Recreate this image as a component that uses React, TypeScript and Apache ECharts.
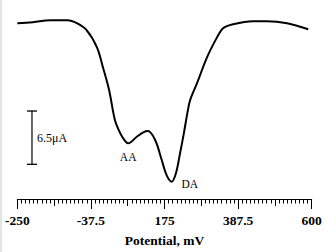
import React, { useEffect, useRef } from "react";
import * as echarts from "echarts";

// Differential pulse voltammogram: potential (mV) vs current (µA)
const potential = [-250, -205, -155, -105, -78, -50, -20, -3, 15, 32, 47, 61, 70, 95, 114, 127, 148, 167, 181, 196, 208, 220, 231, 241, 249, 269, 298, 327, 344, 373, 430, 471, 529, 590];
const current = [21.44, 21.56, 21.8, 21.8, 21.44, 20.6, 18.5, 16.1, 13.3, 9.6, 8.04, 7.1, 6.79, 7.59, 8.13, 8.28, 7.19, 4.75, 2.92, 2.11, 3.13, 5.6, 8.04, 10.48, 12.06, 14.13, 17.3, 19.74, 20.83, 21.32, 21.69, 21.69, 21.44, 20.71];

// Peak annotations
const peakNames = ["AA", "DA"];
const peakPotential = [70, 196];
const peakCurrent = [6.79, 2.11];

// Axis tick labels (mV)
const tickLabels = ["-250", "-37.5", "175", "387.5", "600"];
const axisMin = -250;
const axisMax = 600;

// Current scale bar
const scaleBarPotential = -207.6;
const scaleBarBase = 4.23;
const scaleBarSize = 6.5;
const scaleBarLabel = "6.5\u03bcA";

const serif = "'Liberation Serif', 'Times New Roman', serif";

export default function App() {
  const ref = useRef<HTMLDivElement>(null);

  useEffect(() => {
    if (!ref.current) return;
    const chart = echarts.init(ref.current, null, { renderer: "svg" });
    const span = axisMax - axisMin;
    const major = span / (tickLabels.length - 1);
    // shift so ticks start at 0 on the axis scale
    const shift = (v: number) => v - axisMin;

    chart.setOption({
      animation: false,
      backgroundColor: "#ffffff",
      grid: { left: 17.3, right: 14.3, top: 2.2, bottom: 53 },
      xAxis: [
        {
          type: "value",
          min: 0,
          max: span,
          interval: major,
          position: "bottom",
          axisLine: { show: true, lineStyle: { color: "#000", width: 1 } },
          axisTick: { show: true, length: 10, lineStyle: { color: "#000", width: 1 } },
          splitLine: { show: false },
          axisLabel: {
            margin: 14.5,
            color: "#000",
            fontFamily: serif,
            fontWeight: "bold",
            fontSize: 13.5,
            formatter: (v: number) => tickLabels[Math.round(v / major)] ?? "",
          },
          name: "Potential, mV",
          nameLocation: "middle",
          nameGap: 34,
          nameTextStyle: { color: "#000", fontFamily: serif, fontWeight: "bold", fontSize: 13.5 },
        },
        {
          type: "value",
          min: 0,
          max: span,
          interval: major / 2,
          position: "bottom",
          offset: 0,
          axisLine: { show: false },
          axisTick: { show: true, length: 7, lineStyle: { color: "#000", width: 1 } },
          minorTick: { show: true, splitNumber: 9, length: 4.5, lineStyle: { color: "#000", width: 1 } },
          axisLabel: { show: false },
          splitLine: { show: false },
          minorSplitLine: { show: false },
        },
      ],
      yAxis: { type: "value", min: 0, max: 24, show: false },
      graphic: [
        { type: "rect", shape: { x: 0, y: 0, width: 2, height: 252 }, style: { fill: "#e4e4e4" }, silent: true },
      ],
      series: [
        {
          type: "line",
          xAxisIndex: 0,
          data: potential.map((p, i) => [shift(p), current[i]]),
          smooth: 0.35,
          symbol: "none",
          lineStyle: { color: "#000", width: 2 },
          markPoint: {
            symbol: "circle",
            symbolSize: 0,
            data: peakNames.map((n, i) => ({
              coord: [shift(peakPotential[i]), peakCurrent[i]],
              label: {
                show: true,
                formatter: n,
                color: "#000",
                fontFamily: serif,
                fontSize: 11.5,
                offset: i === 0 ? [0, 14] : [18, 2],
              },
            })),
          },
        },
        {
          type: "line",
          xAxisIndex: 0,
          data: [
            [shift(scaleBarPotential), scaleBarBase],
            [shift(scaleBarPotential), scaleBarBase + scaleBarSize],
          ],
          symbol: "rect",
          symbolSize: [10, 1.3],
          itemStyle: { color: "#000" },
          lineStyle: { color: "#000", width: 1.2 },
          markPoint: {
            symbol: "circle",
            symbolSize: 0,
            data: [
              {
                coord: [shift(scaleBarPotential), scaleBarBase + scaleBarSize / 2],
                label: {
                  show: true,
                  formatter: scaleBarLabel,
                  color: "#000",
                  fontFamily: serif,
                  fontSize: 12,
                  align: "left",
                  offset: [5, 0],
                },
              },
            ],
          },
        },
      ],
    });
    return () => chart.dispose();
  }, []);

  return (
    <div
      ref={ref}
      style={{ position: "fixed", left: 0, top: 0, width: 326, height: 252, background: "#fff" }}
    />
  );
}
